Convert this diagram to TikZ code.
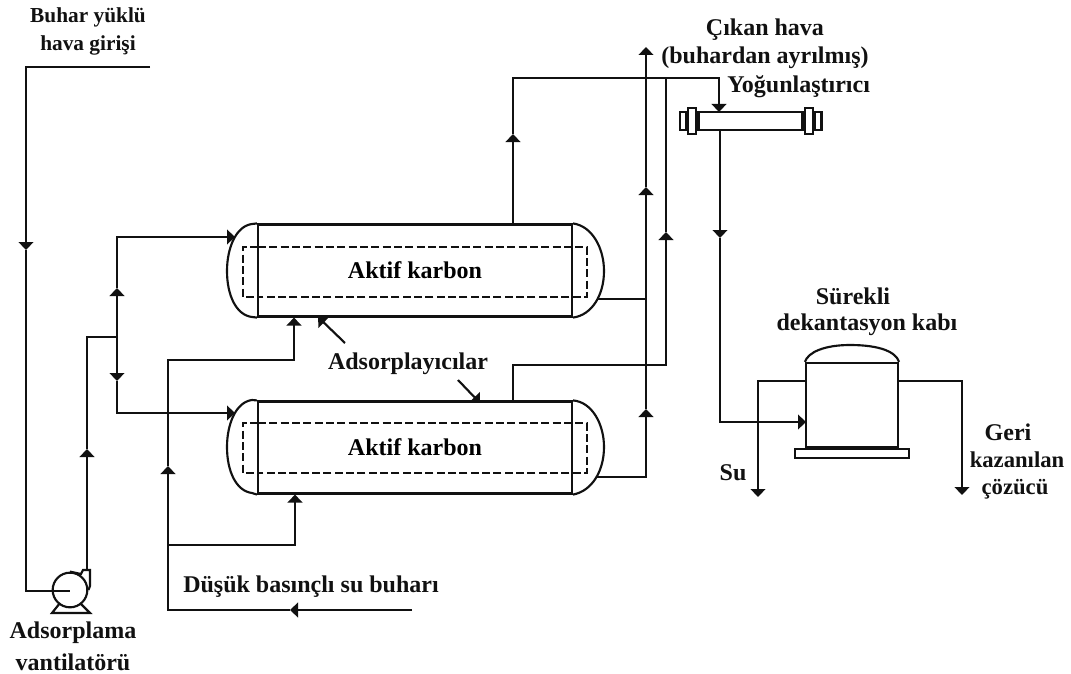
\documentclass[tikz,border=0pt]{standalone}
\usepackage{fontspec}
\setmainfont{Liberation Serif}
\usepackage{xcolor}
\definecolor{inkline}{HTML}{111111}
\usepackage{tikz}
\usetikzlibrary{positioning,arrows.meta}

\begin{document}
\begin{tikzpicture}[
  x=0.75pt, y=-0.75pt,
  pipe/.style={draw=inkline, line width=1.6pt},
  flow/.style={pipe, -{Triangle[width=11pt,length=6pt]}},
  wall/.style={draw=inkline, line width=1.6pt},
  packing/.style={draw=inkline, line width=1.3pt, dash pattern=on 6pt off 2.5pt},
  body/.style={wall, minimum width=235.5pt, minimum height=69pt, inner sep=0pt,
               font=\fontsize{18}{20}\selectfont\bfseries},
  lbl/.style={text=inkline, inner sep=0pt, align=center,
              font=\fontsize{18}{21}\selectfont\bfseries}
]
  \useasboundingbox (0,0) rectangle (1071,674);
  % adsorber vessels
  \node[body] (upper) at (415,270.5) {\raisebox{-2pt}{Aktif karbon}};
  \node[body] (lower) at (415,447.5) {\raisebox{-2pt}{Aktif karbon}};
  \foreach \v/\t/\b in {upper/247/297, lower/423/473}{
    \draw[wall] (\v.north west) -- (252,\t-23) .. controls (236,\t-21) and (227,\t+1) .. (227,\t+24)
      .. controls (227,\b-2) and (236,\b+18) .. (252,\b+20) -- (\v.south west);
    \draw[wall] (\v.north east) .. controls (592,\t-21) and (604,\t+1) .. (604,\t+24)
      .. controls (604,\b-2) and (592,\b+18) .. (\v.south east);
    \draw[packing] (258,\t) -- (243,\t) -- (243,\b) -- (258,\b);
    \draw[packing] (258,\t) -- (587,\t) -- (587,\b) -- (258,\b);
  }
  % condenser
  \node[wall, minimum width=78pt, minimum height=13.5pt, inner sep=0pt] (cond) at (750.5,121) {};
  \node[wall, minimum width=6pt, minimum height=20pt, inner sep=0pt, left=0pt of cond] (flangeL) {};
  \node[wall, minimum width=6pt, minimum height=20pt, inner sep=0pt, right=0pt of cond] (flangeR) {};
  \node[wall, minimum width=5pt, minimum height=13pt, inner sep=0pt, left=0pt of flangeL] (capL) {};
  \node[wall, minimum width=5pt, minimum height=13pt, inner sep=0pt, right=0pt of flangeR] (capR) {};
  % decanter
  \node[wall, minimum width=69pt, minimum height=63pt, inner sep=0pt] (dec) at (852,405) {};
  \node[wall, minimum width=85pt, minimum height=6.5pt, inner sep=0pt, below=0pt of dec] (plate) {};
  \draw[wall] (dec.north west) .. controls (808,352) and (825,345) .. (850,345)
    .. controls (880,345) and (896,352) .. (dec.north east);
  % fan
  \node[wall, circle, minimum size=26pt, inner sep=0pt] (fan) at (70,590) {};
  \draw[wall] (fan.north) -- (81,574) -- (83,570) -- (90,570) -- (90,586) -- (fan.east);
  \draw[wall] (60,603) -- (52,613) -- (90,613) -- (80,603);
  % named points along the lines
  \coordinate (airin) at (150,67);
  \coordinate (aira) at (26,67);
  \coordinate (airtip) at (26,250);
  \coordinate (airb) at (26,591);
  \coordinate (fanc) at (70,591);
  \coordinate (fanout) at (87,570);
  \coordinate (fantip) at (87,449);
  \coordinate (fanup) at (87,337);
  \coordinate (split) at (117,337);
  \coordinate (splitup) at (117,288);
  \coordinate (splittop) at (117,237);
  \coordinate (uppin) at (235,237);
  \coordinate (splitdn) at (117,381);
  \coordinate (splitbot) at (117,413);
  \coordinate (lowin) at (235,413);
  \coordinate (steamin) at (412,610);
  \coordinate (steamtip) at (290,610);
  \coordinate (steamc) at (168,610);
  \coordinate (steamj) at (168,545);
  \coordinate (steamup) at (168,466);
  \coordinate (steamd) at (168,360);
  \coordinate (steame) at (294,360);
  \coordinate (steamf) at (295,545);
  \coordinate (voutA) at (513,224);
  \coordinate (voutAt) at (513,134);
  \coordinate (voutAc) at (513,78);
  \coordinate (condin) at (719,78);
  \coordinate (condtop) at (719,112);
  \coordinate (condout) at (720,130);
  \coordinate (condtip) at (720,238);
  \coordinate (condb) at (720,422);
  \coordinate (decin) at (806,422);
  \coordinate (voutB) at (513,402);
  \coordinate (voutBc) at (513,365);
  \coordinate (voutBd) at (666,365);
  \coordinate (voutBt) at (666,232);
  \coordinate (voutBe) at (666,78);
  \coordinate (endA) at (597,299);
  \coordinate (endAj) at (646,299);
  \coordinate (endB) at (597,477);
  \coordinate (endBc) at (646,477);
  \coordinate (endBt) at (646,409);
  \coordinate (exhT) at (646,187);
  \coordinate (exhtop) at (646,47);
  \coordinate (wata) at (806,381);
  \coordinate (watb) at (758,381);
  \coordinate (watc) at (758,497);
  \coordinate (reca) at (898,381);
  \coordinate (recb) at (962,381);
  \coordinate (recc) at (962,495);
  \coordinate (adsa) at (345,343);
  \coordinate (adsta) at (318,317);
  \coordinate (adsb) at (458,380);
  \coordinate (adstb) at (480,403);
  % air to fan
  \draw[flow] (airin) -- (aira) -- (airtip);
  \draw[pipe] (airtip) -- (airb) -- (fanc);
  \draw[flow] (fanout) -- (fantip);
  \draw[pipe] (fantip) -- (fanup) -- (split);
  \draw[flow] (split) -- (splitup);
  \draw[flow] (splitup) -- (splittop) -- (uppin);
  \draw[flow] (split) -- (splitdn);
  \draw[flow] (splitdn) -- (splitbot) -- (lowin);
  % steam
  \draw[flow] (steamin) -- (steamtip);
  \draw[pipe] (steamtip) -- (steamc) -- (steamj);
  \draw[flow] (steamj) -- (steamup);
  \draw[flow] (steamup) -- (steamd) -- (steame) -- (upper.south -| steame);
  \draw[flow] (steamj) -- (steamf) -- (lower.south -| steamf);
  % vapour to condenser
  \draw[flow] (voutA) -- (voutAt);
  \draw[flow] (voutAt) -- (voutAc) -- (condin) -- (condtop);
  \draw[flow] (voutB) -- (voutBc) -- (voutBd) -- (voutBt);
  \draw[pipe] (voutBt) -- (voutBe);
  \draw[flow] (condout) -- (condtip);
  \draw[flow] (condtip) -- (condb) -- (decin);
  % exhaust
  \draw[pipe] (endA) -- (endAj);
  \draw[flow] (endB) -- (endBc) -- (endBt);
  \draw[flow] (endBt) -- (exhT);
  \draw[flow] (exhT) -- (exhtop);
  % decanter outlets
  \draw[flow] (wata) -- (watb) -- (watc);
  \draw[flow] (reca) -- (recb) -- (recc);
  % labels
  \node[lbl, font=\fontsize{16}{21}\selectfont\bfseries] (air) at (88,31) {Buhar yüklü\\hava girişi};
  \node[lbl] (exhaust) at (765,44) {Çıkan hava\\(buhardan ayrılmış)};
  \node[lbl, anchor=west] (condlbl) at (727,87) {Yoğunlaştırıcı};
  \node[lbl] (adslbl) at (408,364) {Adsorplayıcılar};
  \node[lbl] (contlbl) at (853,296) {Sürekli};
  \node[lbl] (declbl) at (867,325) {dekantasyon kabı};
  \node[lbl] (water) at (733,473) {Su};
  \node[lbl] (recova) at (1008,432) {Geri};
  \node[lbl, font=\fontsize{17}{21}\selectfont\bfseries] (recovb) at (1017,460) {kazanılan};
  \node[lbl, font=\fontsize{17}{21}\selectfont\bfseries] (recovc) at (1015,489) {çözücü};
  \node[lbl] (steam) at (311,587) {Düşük basınçlı su buharı};
  \node[lbl] (fanlbl) at (73,646) {Adsorplama\\[3pt]vantilatörü};
  \draw[flow] (adsa) -- (adsta);
  \draw[flow] (adsb) -- (adstb);
\end{tikzpicture}
\end{document}
